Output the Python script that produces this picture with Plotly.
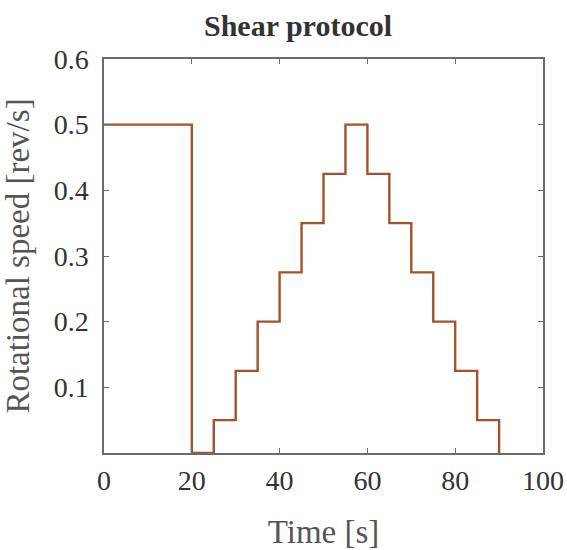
import plotly.graph_objects as go

time_s = [0, 20, 25, 30, 35, 40, 45, 50, 55, 60, 65, 70, 75, 80, 85, 90]
speed_rev_s = [0.5, 0, 0.05, 0.125, 0.2, 0.275, 0.35, 0.425, 0.5, 0.425, 0.35, 0.275, 0.2, 0.125, 0.05, 0]
x_ticks = [0, 20, 40, 60, 80, 100]
y_ticks = [0.1, 0.2, 0.3, 0.4, 0.5, 0.6]

fig = go.Figure()
fig.add_trace(go.Scatter(x=time_s, y=speed_rev_s, mode="lines", line_shape="hv",
                         line=dict(color="#A5522A", width=2.4), showlegend=False,
                         cliponaxis=False, hoverinfo="skip"))

font = "Liberation Serif, Times New Roman, serif"
axis_common = dict(showline=True, linecolor="#6b6b6b", linewidth=1.5, mirror="ticks",
                   ticks="inside", ticklen=5, tickcolor="#6b6b6b", showgrid=False,
                   zeroline=False, tickfont=dict(family=font, size=28, color="#333333"))
fig.update_xaxes(range=[0, 100], tickvals=x_ticks, ticktext=[str(v) for v in x_ticks],
                 ticklabelstandoff=2,
                 title=dict(text="Time [s]", font=dict(family=font, size=33, color="#555555"), standoff=26),
                 **axis_common)
fig.update_yaxes(range=[0, 0.6], tickvals=y_ticks, ticktext=[f"{v:.1f}" for v in y_ticks],
                 ticklabelstandoff=8,
                 title=dict(text="Rotational speed [rev/s]", font=dict(family=font, size=33, color="#555555"), standoff=15),
                 **axis_common)
fig.update_layout(width=567, height=550, plot_bgcolor="white", paper_bgcolor="white",
                  margin=dict(l=104, r=24, t=59, b=97, autoexpand=False),
                  title=dict(text="<b>Shear protocol</b>", x=0.5256, xanchor="center", xref="container",
                             y=0.9545, yanchor="middle", yref="container",
                             font=dict(family=font, size=30, color="#333333")))
fig.write_html("out.html", config={"displayModeBar": False},
               post_script="document.body.style.margin='0';document.body.style.overflow='hidden';")
